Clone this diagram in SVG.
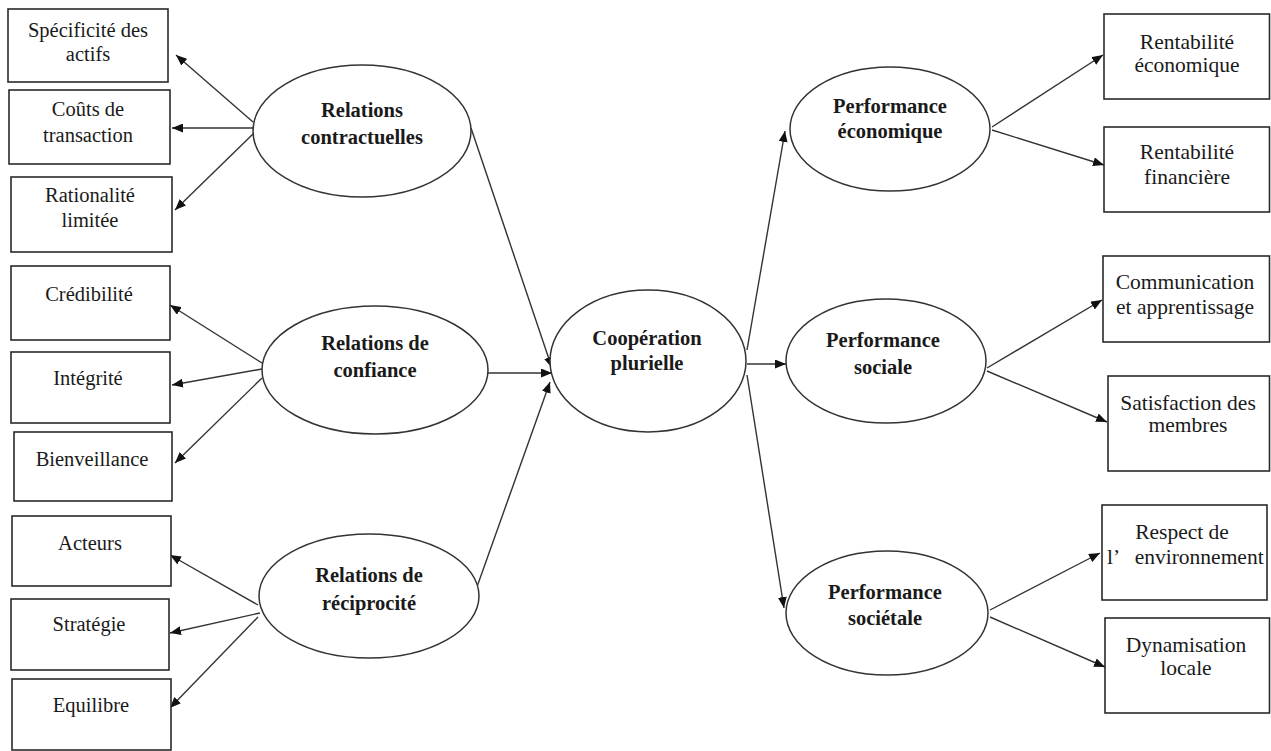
<svg xmlns="http://www.w3.org/2000/svg" width="1271" height="751" viewBox="0 0 1271 751">
<style>
.box{fill:#fff;stroke:#2a2a2a;stroke-width:1.6}
.ell{fill:#fff;stroke:#333;stroke-width:1.5}
.t{font-family:"Liberation Serif","Times New Roman",serif;font-size:20.5px;fill:#1a1a1a;text-anchor:middle}
.tr{font-family:"Liberation Serif","Times New Roman",serif;font-size:21.5px;fill:#1a1a1a;text-anchor:middle}
.trs{font-family:"Liberation Serif","Times New Roman",serif;font-size:21.5px;fill:#1a1a1a;text-anchor:start}
.b{font-family:"Liberation Serif","Times New Roman",serif;font-size:20.5px;font-weight:bold;fill:#1a1a1a;text-anchor:middle}
.c line{stroke:#333;stroke-width:1.4;marker-end:url(#ah)}
</style>
<defs>
<marker id="ah" markerUnits="userSpaceOnUse" markerWidth="12" markerHeight="9" refX="11" refY="4.5" orient="auto">
<path d="M0,0 L11,4.5 L0,9 z" fill="#111"/>
</marker>
</defs>
<rect width="1271" height="751" fill="#fff"/>
<g id="connectors" class="c">
<line x1="253" y1="122" x2="176" y2="55"/>
<line x1="253" y1="128" x2="172" y2="128"/>
<line x1="253" y1="134" x2="175" y2="210"/>
<line x1="262" y1="363" x2="170" y2="305"/>
<line x1="262" y1="369" x2="172" y2="385"/>
<line x1="262" y1="378" x2="175" y2="463"/>
<line x1="258" y1="605" x2="170" y2="555"/>
<line x1="260" y1="613" x2="170" y2="633"/>
<line x1="258" y1="617" x2="170" y2="708"/>
<line x1="471" y1="128" x2="552" y2="368"/>
<line x1="488" y1="373" x2="552" y2="373"/>
<line x1="473" y1="598" x2="550" y2="382"/>
<line x1="747" y1="350" x2="785" y2="131"/>
<line x1="747" y1="364" x2="786" y2="364"/>
<line x1="747" y1="375" x2="784" y2="608"/>
<line x1="992" y1="127" x2="1103" y2="55"/>
<line x1="992" y1="130" x2="1104" y2="165"/>
<line x1="987" y1="368" x2="1102" y2="300"/>
<line x1="987" y1="371" x2="1107" y2="422"/>
<line x1="990" y1="610" x2="1100" y2="553"/>
<line x1="990" y1="617" x2="1105" y2="667"/>
</g>
<g id="specificite"><rect class="box" x="8" y="9" width="160" height="73"/><text class="t" x="88" y="37">Spécificité des</text><text class="t" x="88" y="61">actifs</text></g>
<g id="couts"><rect class="box" x="9" y="90" width="161" height="74"/><text class="t" x="88" y="116">Coûts de</text><text class="t" x="88" y="142">transaction</text></g>
<g id="rationalite"><rect class="box" x="11" y="177" width="161" height="75"/><text class="t" x="90" y="202">Rationalité</text><text class="t" x="90" y="227">limitée</text></g>
<g id="credibilite"><rect class="box" x="11" y="266" width="159" height="74"/><text class="t" x="89" y="301">Crédibilité</text></g>
<g id="integrite"><rect class="box" x="11" y="352" width="159" height="71"/><text class="t" x="88" y="385">Intégrité</text></g>
<g id="bienveillance"><rect class="box" x="14" y="432" width="158" height="69"/><text class="t" x="92" y="466">Bienveillance</text></g>
<g id="acteurs"><rect class="box" x="12" y="516" width="159" height="70"/><text class="t" x="90" y="550">Acteurs</text></g>
<g id="strategie"><rect class="box" x="11" y="599" width="158" height="71"/><text class="t" x="89" y="631">Stratégie</text></g>
<g id="equilibre"><rect class="box" x="12" y="679" width="159" height="71"/><text class="t" x="91" y="712">Equilibre</text></g>
<g id="rel-contractuelles"><ellipse class="ell" cx="362" cy="131" rx="109" ry="66"/><text class="b" x="362" y="117">Relations</text><text class="b" x="362" y="144">contractuelles</text></g>
<g id="rel-confiance"><ellipse class="ell" cx="375" cy="370" rx="113" ry="64"/><text class="b" x="375" y="350">Relations de</text><text class="b" x="375" y="377">confiance</text></g>
<g id="rel-reciprocite"><ellipse class="ell" cx="369" cy="596" rx="110" ry="62"/><text class="b" x="369" y="582">Relations de</text><text class="b" x="369" y="610">réciprocité</text></g>
<g id="cooperation"><ellipse class="ell" cx="648" cy="361" rx="98" ry="71"/><text class="b" x="647" y="345">Coopération</text><text class="b" x="647" y="370">plurielle</text></g>
<g id="perf-economique"><ellipse class="ell" cx="890" cy="129" rx="100" ry="62"/><text class="b" x="890" y="113">Performance</text><text class="b" x="890" y="138">économique</text></g>
<g id="perf-sociale"><ellipse class="ell" cx="886" cy="361" rx="100" ry="62"/><text class="b" x="883" y="347">Performance</text><text class="b" x="883" y="374">sociale</text></g>
<g id="perf-societale"><ellipse class="ell" cx="887" cy="613" rx="101" ry="62"/><text class="b" x="885" y="599">Performance</text><text class="b" x="885" y="625">sociétale</text></g>
<g id="rent-eco"><rect class="box" x="1104" y="14" width="165.5" height="85"/><text class="tr" x="1187" y="49">Rentabilité</text><text class="tr" x="1187" y="72">économique</text></g>
<g id="rent-fin"><rect class="box" x="1104" y="127" width="165.5" height="85"/><text class="tr" x="1187" y="159">Rentabilité</text><text class="tr" x="1187" y="184">financière</text></g>
<g id="communication"><rect class="box" x="1103" y="256" width="166.5" height="86"/><text class="tr" x="1185" y="289">Communication</text><text class="tr" x="1185" y="314">et apprentissage</text></g>
<g id="satisfaction"><rect class="box" x="1108" y="376" width="161.5" height="95"/><text class="tr" x="1188" y="410">Satisfaction des</text><text class="tr" x="1188" y="432">membres</text></g>
<g id="respect"><rect class="box" x="1102" y="505" width="165" height="95"/><text class="tr" x="1182" y="539">Respect de</text><text class="trs" x="1107" y="564" xml:space="preserve">l’   environnement</text></g>
<g id="dynamisation"><rect class="box" x="1105" y="618" width="164.5" height="95"/><text class="tr" x="1186" y="652">Dynamisation</text><text class="tr" x="1186" y="675">locale</text></g>
</svg>
